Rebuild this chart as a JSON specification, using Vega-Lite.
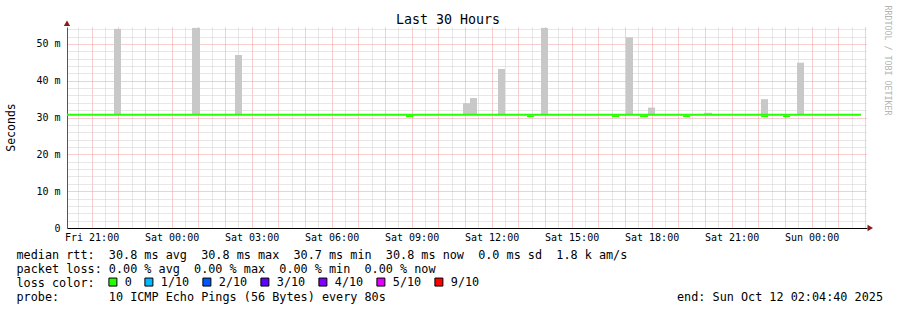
{
  "$schema": "https://vega.github.io/schema/vega-lite/v6.json",
  "autosize": {"type": "none"},
  "padding": {"left": 67, "top": 27, "right": 30, "bottom": 82},
  "width": 800,
  "height": 201,
  "background": "white",
  "config": {"view": {"stroke": null}},
  "title": {"text": "Last 30 Hours", "font": "DejaVu Sans Mono", "fontSize": 13.3, "fontWeight": "normal", "color": "black", "anchor": "middle", "dx": -19, "dy": 35, "offset": 3, "baseline": "alphabetic"},
  "datasets": {
    "smoke": [
      {"t": "2025-10-10T21:50:25Z", "t2": "2025-10-10T22:06:10Z", "v": 30.7, "v2": 54.1},
      {"t": "2025-10-11T00:45:55Z", "t2": "2025-10-11T01:03:55Z", "v": 30.7, "v2": 54.35},
      {"t": "2025-10-11T02:22:40Z", "t2": "2025-10-11T02:38:25Z", "v": 30.7, "v2": 47.0},
      {"t": "2025-10-11T10:55:40Z", "t2": "2025-10-11T11:11:25Z", "v": 30.7, "v2": 33.9},
      {"t": "2025-10-11T11:11:25Z", "t2": "2025-10-11T11:27:10Z", "v": 30.7, "v2": 35.3},
      {"t": "2025-10-11T12:14:25Z", "t2": "2025-10-11T12:30:10Z", "v": 30.7, "v2": 43.2},
      {"t": "2025-10-11T13:51:10Z", "t2": "2025-10-11T14:06:55Z", "v": 30.7, "v2": 54.35},
      {"t": "2025-10-11T17:02:25Z", "t2": "2025-10-11T17:18:10Z", "v": 30.7, "v2": 51.8},
      {"t": "2025-10-11T17:51:55Z", "t2": "2025-10-11T18:07:40Z", "v": 30.7, "v2": 32.7},
      {"t": "2025-10-11T19:57:55Z", "t2": "2025-10-11T20:15:55Z", "v": 30.7, "v2": 31.3},
      {"t": "2025-10-11T22:06:10Z", "t2": "2025-10-11T22:21:55Z", "v": 30.7, "v2": 35.0},
      {"t": "2025-10-11T23:27:10Z", "t2": "2025-10-11T23:42:55Z", "v": 30.7, "v2": 44.9}
    ],
    "dips": [
      {"t": "2025-10-11T08:47:25Z", "t2": "2025-10-11T09:03:10Z", "v": 30.1, "v2": 30.45, "loss": "0"},
      {"t": "2025-10-11T13:19:40Z", "t2": "2025-10-11T13:35:25Z", "v": 30.1, "v2": 30.45, "loss": "0"},
      {"t": "2025-10-11T16:30:55Z", "t2": "2025-10-11T16:46:40Z", "v": 30.1, "v2": 30.45, "loss": "0"},
      {"t": "2025-10-11T17:33:55Z", "t2": "2025-10-11T17:51:55Z", "v": 30.1, "v2": 30.45, "loss": "0"},
      {"t": "2025-10-11T19:10:40Z", "t2": "2025-10-11T19:26:25Z", "v": 30.1, "v2": 30.45, "loss": "0"},
      {"t": "2025-10-11T22:06:10Z", "t2": "2025-10-11T22:21:55Z", "v": 30.1, "v2": 30.45, "loss": "0"},
      {"t": "2025-10-11T22:55:40Z", "t2": "2025-10-11T23:11:25Z", "v": 30.1, "v2": 30.45, "loss": "0"}
    ],
    "median": [
      {"t": "2025-10-10T20:04:40Z", "v": 30.75},
      {"t": "2025-10-12T01:51:10Z", "v": 30.75}
    ],
    "arrowUp": [
      {"t": "2025-10-10T20:04:40Z", "v": 55.6}
    ],
    "arrowRight": [
      {"t": "2025-10-12T02:12:00Z", "v": 0}
    ]
  },
  "encoding": {
    "x": {
      "field": "t", "type": "temporal",
      "scale": {"type": "utc", "domain": [1760126680000, 1760234680000]},
      "axis": {
        "title": [
          "median\u00a0rtt:\u00a0\u00a030.8\u00a0ms\u00a0avg\u00a0\u00a030.8\u00a0ms\u00a0max\u00a0\u00a030.7\u00a0ms\u00a0min\u00a0\u00a030.8\u00a0ms\u00a0now\u00a0\u00a00.0\u00a0ms\u00a0sd\u00a0\u00a01.8\u00a0k\u00a0am/s",
          "packet\u00a0loss:\u00a00.00\u00a0%\u00a0avg\u00a0\u00a00.00\u00a0%\u00a0max\u00a0\u00a00.00\u00a0%\u00a0min\u00a0\u00a00.00\u00a0%\u00a0now",
          "loss\u00a0color:",
          "probe:\u00a0\u00a0\u00a0\u00a0\u00a0\u00a0\u00a010\u00a0ICMP\u00a0Echo\u00a0Pings\u00a0(56\u00a0Bytes)\u00a0every\u00a080s\u00a0\u00a0\u00a0\u00a0\u00a0\u00a0\u00a0\u00a0\u00a0\u00a0\u00a0\u00a0\u00a0\u00a0\u00a0\u00a0\u00a0\u00a0\u00a0\u00a0\u00a0\u00a0\u00a0\u00a0\u00a0\u00a0\u00a0\u00a0\u00a0\u00a0\u00a0\u00a0\u00a0\u00a0\u00a0\u00a0\u00a0\u00a0\u00a0\u00a0\u00a0end:\u00a0Sun\u00a0Oct\u00a012\u00a002:04:40\u00a02025"
        ],
        "titleFont": "DejaVu Sans Mono", "titleFontSize": 11.8, "titleFontWeight": "normal", "titleColor": "black",
        "titleAlign": "left", "titleAnchor": "start", "titleBaseline": "alphabetic", "titleX": -51, "titleY": 30.5, "titleLineHeight": 14,
        "values": [1760128200000, 1760130000000, 1760131800000, 1760133600000, 1760135400000, 1760137200000, 1760139000000, 1760140800000, 1760142600000, 1760144400000, 1760146200000, 1760148000000, 1760149800000, 1760151600000, 1760153400000, 1760155200000, 1760157000000, 1760158800000, 1760160600000, 1760162400000, 1760164200000, 1760166000000, 1760167800000, 1760169600000, 1760171400000, 1760173200000, 1760175000000, 1760176800000, 1760178600000, 1760180400000, 1760182200000, 1760184000000, 1760185800000, 1760187600000, 1760189400000, 1760191200000, 1760193000000, 1760194800000, 1760196600000, 1760198400000, 1760200200000, 1760202000000, 1760203800000, 1760205600000, 1760207400000, 1760209200000, 1760211000000, 1760212800000, 1760214600000, 1760216400000, 1760218200000, 1760220000000, 1760221800000, 1760223600000, 1760225400000, 1760227200000, 1760229000000, 1760230800000, 1760232600000, 1760234400000],
        "labelExpr": "utcminutes(datum.value) == 0 && utchours(datum.value) % 3 == 0 ? utcFormat(datum.value, '%a %H:%M') : ''",
        "labelFont": "DejaVu Sans Mono", "labelFontSize": 10, "labelColor": "black", "labelOverlap": false, "labelFlush": false, "labelPadding": 4,
        "ticks": false,
        "domainColor": "black", "domainWidth": 1,
        "grid": true, "gridDash": [1, 1], "gridWidth": 1,
        "gridColor": {"condition": {"test": "utcminutes(datum.value) == 0", "value": "#f09a9a"}, "value": "#cfcfcf"}
      }
    }
  },
  "layer": [
    {
      "data": {"name": "smoke"},
      "mark": {"type": "rect", "color": "#c8c8c8"},
      "encoding": {
        "x2": {"field": "t2"},
        "y": {
          "field": "v", "type": "quantitative",
          "scale": {"domain": [0, 54.6], "nice": false, "zero": false},
          "axis": {
            "values": [0, 2, 4, 6, 8, 10, 12, 14, 16, 18, 20, 22, 24, 26, 28, 30, 32, 34, 36, 38, 40, 42, 44, 46, 48, 50, 52, 54],
            "title": "Seconds", "titleFont": "DejaVu Sans Mono", "titleFontSize": 11.5, "titleFontWeight": "normal", "titleColor": "black",
            "titleAngle": 270, "titleX": -56, "titleY": 100, "titleAlign": "center", "titleBaseline": "middle",
            "labelExpr": "datum.value % 10 == 0 ? (datum.value == 0 ? '0' : datum.value + ' m') : ''",
            "labelFont": "DejaVu Sans Mono", "labelFontSize": 10, "labelColor": "black", "labelPadding": 7, "labelOverlap": false, "labelFlush": false,
            "ticks": false,
            "domainColor": "#555555",
            "grid": true, "gridDash": [1, 1], "gridWidth": 1,
            "gridColor": {"condition": {"test": "datum.value % 10 == 0", "value": "#f09a9a"}, "value": "#cfcfcf"}
          }
        },
        "y2": {"field": "v2"}
      }
    },
    {
      "data": {"name": "median"},
      "mark": {"type": "line", "color": "#26ff00", "strokeWidth": 2},
      "encoding": {
        "y": {"field": "v", "type": "quantitative", "axis": null}
      }
    },
    {
      "data": {"name": "dips"},
      "mark": {"type": "rect"},
      "encoding": {
        "x2": {"field": "t2"},
        "y": {"field": "v", "type": "quantitative", "axis": null},
        "y2": {"field": "v2"},
        "color": {
          "field": "loss", "type": "nominal",
          "scale": {"domain": ["0", "1/10", "2/10", "3/10", "4/10", "5/10", "9/10"], "range": ["#26ff00", "#00b8ff", "#0059ff", "#5e00ff", "#7e00ff", "#dd00ff", "#ff0000"]},
          "legend": {
            "orient": "none", "legendX": 40, "legendY": 249, "direction": "horizontal", "title": null,
            "symbolType": "square", "symbolSize": 64, "symbolStrokeColor": "black", "symbolStrokeWidth": 1, "symbolOpacity": 1,
            "labelFont": "DejaVu Sans Mono", "labelFontSize": 11.8, "labelColor": "black", "labelOffset": 6, "columnPadding": 10
          }
        }
      }
    },
    {
      "data": {"name": "arrowUp"},
      "mark": {"type": "point", "shape": "triangle-up", "filled": true, "color": "#8b1a1a", "opacity": 1, "size": 40},
      "encoding": {
        "y": {
          "field": "v", "type": "quantitative",
          "axis": {
            "orient": "right", "title": "RRDTOOL / TOBI OETIKER", "titleFont": "DejaVu Sans Mono", "titleFontSize": 8.3, "titleFontWeight": "normal",
            "titleColor": "#b4b4b4", "titleAngle": 90, "titleX": 19, "titleY": 33, "titleAlign": "center", "titleBaseline": "middle",
            "labels": false, "ticks": false, "domain": false, "grid": false
          }
        }
      }
    },
    {
      "data": {"name": "arrowRight"},
      "mark": {"type": "point", "shape": "triangle-right", "filled": true, "color": "#8b1a1a", "opacity": 1, "size": 40},
      "encoding": {
        "y": {"field": "v", "type": "quantitative", "axis": null}
      }
    }
  ],
  "resolve": {"axis": {"y": "independent"}}
}
